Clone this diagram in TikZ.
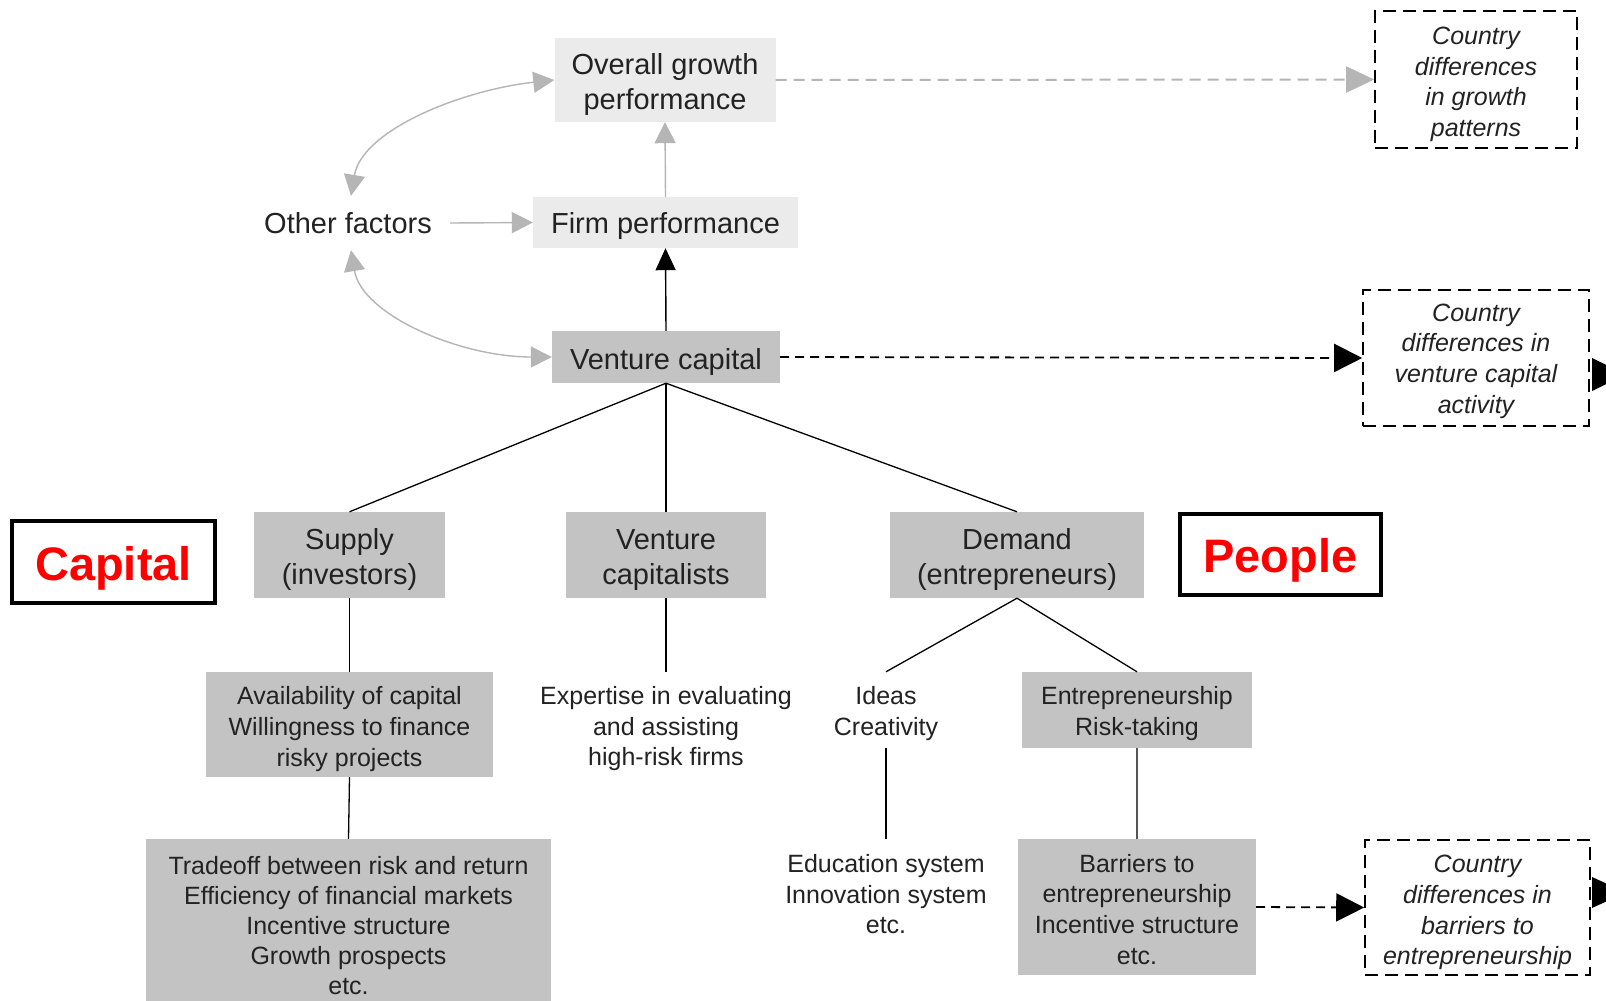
\documentclass[tikz,border=0pt]{standalone}
\usepackage{fontspec}
\setmainfont{Liberation Sans}
\usetikzlibrary{arrows.meta}
\definecolor{lbox}{HTML}{EBEBEB}
\definecolor{dbox}{HTML}{C3C3C3}
\definecolor{txt}{HTML}{222222}
\definecolor{garrow}{HTML}{B5B5B5}
\definecolor{capred}{HTML}{FF0000}
\definecolor{midgray}{HTML}{555555}
\newcommand\lowtxt[2][4pt]{\raisebox{-#1}[\height][\depth]{\begin{tabular}{@{}c@{}}#2\end{tabular}}}
\begin{document}
\begin{tikzpicture}[x=1pt,y=-1pt,
  big/.style={font=\fontsize{29}{35}\selectfont, text=txt, align=center, inner sep=0pt},
  small/.style={font=\fontsize{25}{30.7}\selectfont, text=txt, align=center, inner sep=0pt},
  lbx/.style={big, fill=lbox},
  dbig/.style={big, fill=dbox},
  dsmall/.style={small, fill=dbox},
  cbox/.style={font=\fontsize{25}{30.7}\selectfont\itshape, text=txt, align=center, inner sep=0pt,
     draw=black, line width=1.6pt, dash pattern=on 13pt off 7pt},
  tagbox/.style={draw=black, line width=4pt, font=\fontsize{47}{50}\selectfont\bfseries, text=capred, inner sep=0pt},
  tree/.style={line width=1.3pt, draw=black},
  garr/.style={draw=garrow, line width=1.4pt, -{Triangle[length=21pt,width=21pt]}, garrow},
  garrboth/.style={draw=garrow, line width=1.4pt, {Triangle[length=21pt,width=21pt]}-{Triangle[length=21pt,width=21pt]}, garrow},
  barr/.style={draw=black, line width=1.4pt, -{Triangle[length=22pt,width=20pt]}},
  dbarr/.style={draw=black, line width=1.8pt, dash pattern=on 9pt off 6pt, -{Triangle[length=28pt,width=28pt]}},
  dgarr/.style={draw=garrow, line width=2pt, dash pattern=on 11pt off 7pt, -{Triangle[length=28pt,width=26pt]}, garrow}
]
\useasboundingbox (0,0) rectangle (1606,1001);
\clip (0,0) rectangle (1606,1001);
\fill[white] (0,0) rectangle (1606,1001);

% top part
\node[lbx, minimum width=221pt, minimum height=84pt] (og) at (665,80) {\lowtxt[5pt]{Overall growth\\performance}};
\node[lbx, minimum width=265pt, minimum height=51pt] (fp) at (665.5,222.5) {\lowtxt[4pt]{Firm performance}};
\node[dbig, minimum width=228pt, minimum height=52pt] (vc) at (666,357) {\lowtxt[5pt]{Venture capital}};
\node[big, minimum width=204pt, minimum height=54pt] (of) at (348,223) {\lowtxt[3pt]{Other factors}};

% country boxes
\node[cbox, minimum width=202pt, minimum height=137pt] (cg) at (1476,79.5) {\lowtxt[5pt]{Country\\differences\\in growth\\patterns}};
\node[cbox, minimum width=226pt, minimum height=136pt] (cv) at (1476,358) {\lowtxt[3pt]{Country\\differences in\\venture capital\\activity}};
\node[cbox, minimum width=225pt, minimum height=135pt] (cb) at (1477.5,907.5) {\lowtxt[5pt]{Country\\differences in\\barriers to\\entrepreneurship}};

% second level
\node[dbig, minimum width=191pt, minimum height=86pt] (sup) at (349.5,555) {\lowtxt[5pt]{Supply\\(investors)}};
\node[dbig, minimum width=200pt, minimum height=86pt] (vcs) at (666,555) {\lowtxt[5pt]{Venture\\capitalists}};
\node[dbig, minimum width=254pt, minimum height=86pt] (dem) at (1017,555) {\lowtxt[5pt]{Demand\\(entrepreneurs)}};

% tags
\node[tagbox, minimum width=203pt, minimum height=82pt] (cap) at (113.5,562) {\lowtxt[8pt]{Capital}};
\node[tagbox, minimum width=201pt, minimum height=81pt] (ppl) at (1280.5,554.5) {\lowtxt[8pt]{People}};

% third level
\node[dsmall, minimum width=287pt, minimum height=105pt] (av) at (349.5,724.5) {\lowtxt[5pt]{Availability of capital\\Willingness to finance\\risky projects}};
\node[small, minimum width=250pt, minimum height=108pt] (exp) at (666,726) {\lowtxt[3pt]{Expertise in evaluating\\and assisting\\high-risk firms}};
\node[small, minimum width=110pt, minimum height=76pt] (ide) at (886,710) {\lowtxt[4pt]{Ideas\\Creativity}};
\node[dsmall, minimum width=230pt, minimum height=76pt] (ent) at (1137,710) {\lowtxt[4pt]{Entrepreneurship\\Risk-taking}};

% fourth level
\node[dsmall, font=\fontsize{25}{30}\selectfont, minimum width=405pt, minimum height=168pt] (trd) at (348.5,923) {\lowtxt[5pt]{Tradeoff between risk and return\\Efficiency of financial markets\\Incentive structure\\Growth prospects\\etc.}};
\node[small, minimum width=210pt, minimum height=108pt] (edu) at (886,893) {\lowtxt[4pt]{Education system\\Innovation system\\etc.}};
\node[dsmall, minimum width=238pt, minimum height=136pt] (bar) at (1137,907) {\lowtxt[5pt]{Barriers to\\entrepreneurship\\Incentive structure\\etc.}};

% arrows top
\draw[dgarr] (og.east) -- (cg.west);
\draw[garr] (fp.north) -- (og.south);
\draw[barr] (vc.north) -- (fp.south);
\draw[garr] (of.east) -- (fp.west);
\draw[garrboth] ([xshift=3pt]of.north) .. controls (362,130) and (462,90) .. (og.west);
\draw[garrboth] ([xshift=3pt]of.south) .. controls (362,315) and (460,357) .. (vc.west);
\draw[dbarr] (vc.east) -- (cv.west);
\draw[dbarr] (bar.east) -- (cb.west);

% tree lines
\draw[tree] (vc.south) -- (sup.north);
\draw[tree] (vc.south) -- (vcs.north);
\draw[tree] (vc.south) -- (dem.north);
\draw[tree] (sup.south) -- (av.north);
\draw[tree] (av.south) -- (trd.north);
\draw[tree] (vcs.south) -- (exp.north);
\draw[tree] (dem.south) -- (ide.north);
\draw[tree] (dem.south) -- (ent.north);
\draw[tree] (ide.south) -- (edu.north);
\draw[line width=1.2pt, draw=midgray] (ent.south) -- (bar.north);

% partial arrowheads at the right edge
\fill[black] (1592,358) -- (1592,391) -- (1626,374.5) -- cycle;
\fill[black] (1592,877) -- (1592,908) -- (1626,892.5) -- cycle;
\end{tikzpicture}
\end{document}
